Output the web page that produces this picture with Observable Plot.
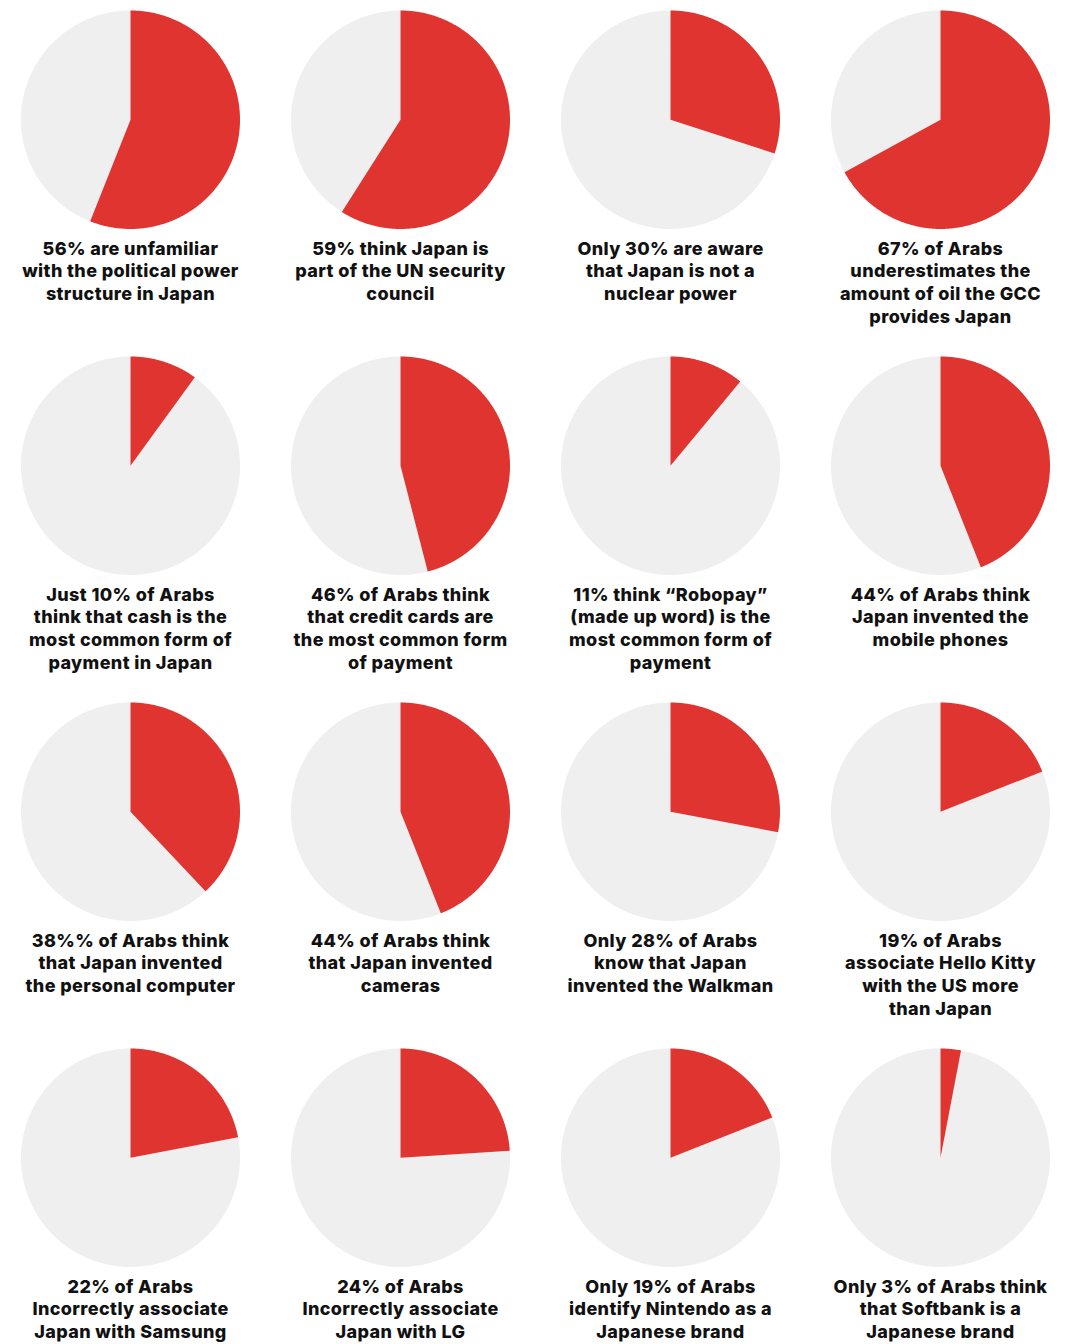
<!DOCTYPE html>
<html>
<head>
<meta charset="utf-8">
<script src="https://cdn.jsdelivr.net/npm/d3@7"></script>
<script src="https://cdn.jsdelivr.net/npm/@observablehq/plot@0.6"></script>
<style>
  html, body { margin: 0; padding: 0; background: #fff; overflow: hidden; }
  #chart svg { display: block; }
  #chart svg text { letter-spacing: 0.38px; }
</style>
</head>
<body>
<div id="chart"></div>
<script>
// ---- data ----
const values = [56, 59, 30, 67, 10, 46, 11, 44, 38, 44, 28, 19, 22, 24, 19, 3];
const labels = [
  "56% are unfamiliar\nwith the political power\nstructure in Japan",
  "59% think Japan is\npart of the UN security\ncouncil",
  "Only 30% are aware\nthat Japan is not a\nnuclear power",
  "67% of Arabs\nunderestimates the\namount of oil the GCC\nprovides Japan",
  "Just 10% of Arabs\nthink that cash is the\nmost common form of\npayment in Japan",
  "46% of Arabs think\nthat credit cards are\nthe most common form\nof payment",
  "11% think \u201cRobopay\u201d\n(made up word) is the\nmost common form of\npayment",
  "44% of Arabs think\nJapan invented the\nmobile phones",
  "38%% of Arabs think\nthat Japan invented\nthe personal computer",
  "44% of Arabs think\nthat Japan invented\ncameras",
  "Only 28% of Arabs\nknow that Japan\ninvented the Walkman",
  "19% of Arabs\nassociate Hello Kitty\nwith the US more\nthan Japan",
  "22% of Arabs\nIncorrectly associate\nJapan with Samsung",
  "24% of Arabs\nIncorrectly associate\nJapan with LG",
  "Only 19% of Arabs\nidentify Nintendo as a\nJapanese brand",
  "Only 3% of Arabs think\nthat Softbank is a\nJapanese brand"
];
const columns = 4;

// ---- layout / style ----
const R = 109.5;          // pie radius in px
const cellW = 270, cellH = 346.8;
const cx = 135, cy = 117.5; // pie center inside a cell
const RED = "#e03431", GREY = "#efefef";

const pies = values.map((v, i) => ({
  id: i, col: i % columns, row: Math.floor(i / columns), value: v, label: labels[i]
}));

// wedge outlines (geometry derived from each value: unit circle, clockwise from 12 o'clock)
function wedge(p, from, to, part) {
  const a0 = from / 100 * 2 * Math.PI, a1 = to / 100 * 2 * Math.PI;
  const n = Math.max(2, Math.ceil((a1 - a0) / (Math.PI / 360)));
  const pts = [{x: 0, y: 0}];
  for (let k = 0; k <= n; ++k) {
    const a = a0 + (a1 - a0) * k / n;
    pts.push({x: Math.sin(a), y: Math.cos(a)});
  }
  pts.push({x: 0, y: 0});
  return pts.map(d => ({...d, key: p.id + "-" + part, col: p.col, row: p.row, part}));
}
const shapes = pies.flatMap(p => [
  ...wedge(p, p.value, 100, "rest"),
  ...wedge(p, 0, p.value, "share")
]);

const chart = Plot.plot({
  width: 1075,
  height: 1344,
  margin: 0,
  facetMarginTop: 0, facetMarginBottom: 0, facetMarginLeft: 0, facetMarginRight: 0,
  fx: {domain: d3.range(columns), range: [-5, -5 + columns * cellW], padding: 0, axis: null},
  fy: {domain: d3.range(Math.ceil(values.length / columns)), range: [0, 4 * cellH], padding: 0, axis: null},
  x: {domain: [-cx / R, (cellW - cx) / R], axis: null},
  y: {domain: [-(cellH - cy) / R, cy / R], axis: null},
  style: {fontFamily: "Inter, 'Noto Sans', sans-serif", background: "#fff"},
  marks: [
    Plot.line(shapes, {
      x: "x", y: "y", z: "key", fx: "col", fy: "row",
      fill: d => d.part === "share" ? RED : GREY, stroke: null, curve: "linear"
    }),
    Plot.text(pies, {
      x: 0, y: -119 / R, fx: "col", fy: "row", text: "label",
      lineAnchor: "top", lineHeight: 1.26, fontSize: 18, fontWeight: 800,
      fill: "#111", textAnchor: "middle"
    })
  ]
});
document.getElementById("chart").append(chart);
</script>
</body>
</html>
